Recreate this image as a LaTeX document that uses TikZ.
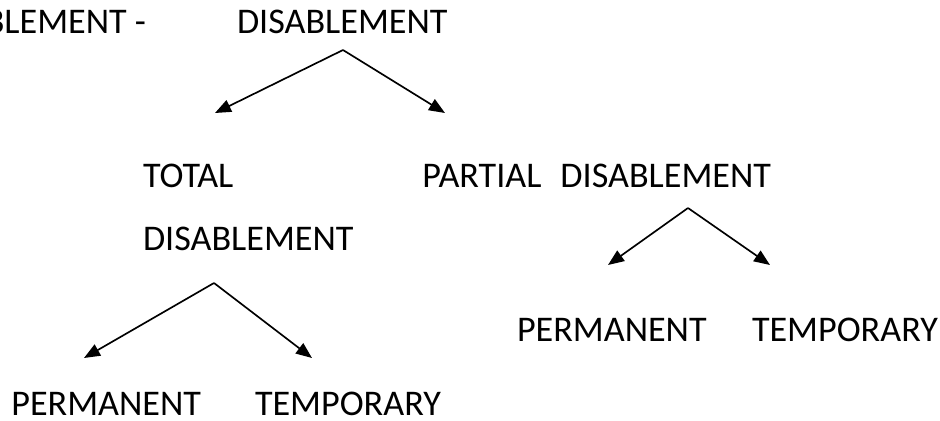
\documentclass[tikz,border=0pt]{standalone}
\usepackage{fontspec}
\setmainfont{Carlito}
\usetikzlibrary{arrows.meta}
\begin{document}
\begin{tikzpicture}[x=0.75pt,y=-0.75pt,
  lbl/.style={inner sep=0pt,outer sep=0pt,text depth=0pt,font=\fontsize{27.1}{30}\selectfont},
  arr/.style={line width=1.25pt,-{Triangle[length=12pt,width=9.5pt]}}]
\useasboundingbox (0,0) rectangle (940,421);
\clip (0,0) rectangle (940,421);
\node[lbl,anchor=base east] (lead) at (146,33) {DISABLEMENT -};
\node[lbl,anchor=base west] (top) at (237,33) {DISABLEMENT};
\node[lbl,anchor=base west] (total) at (143,187) {TOTAL};
\node[lbl,anchor=base west] (totald) at (143,250) {DISABLEMENT};
\node[lbl,anchor=base east] (partial) at (771,187) {PARTIAL\hspace{0.3em} DISABLEMENT};
\node[lbl,anchor=base east] (perm1) at (201,415) {PERMANENT};
\node[lbl,anchor=base west] (temp1) at (255,415) {TEMPORARY};
\node[lbl,anchor=base west] (perm2) at (517,341) {PERMANENT};
\node[lbl,anchor=base west] (temp2) at (752,341) {TEMPORARY};
\coordinate (a1) at (343,50);
\coordinate (t1l) at (215,113);
\coordinate (t1r) at (445,113);
\coordinate (a2) at (214,283);
\coordinate (t2l) at (84,358);
\coordinate (t2r) at (312,358);
\coordinate (a3) at (688,208);
\coordinate (t3l) at (608,265);
\coordinate (t3r) at (770,265);
\draw[arr] (a1) -- (t1l);
\draw[arr] (a1) -- (t1r);
\draw[arr] (a2) -- (t2l);
\draw[arr] (a2) -- (t2r);
\draw[arr] (a3) -- (t3l);
\draw[arr] (a3) -- (t3r);
\end{tikzpicture}
\end{document}
